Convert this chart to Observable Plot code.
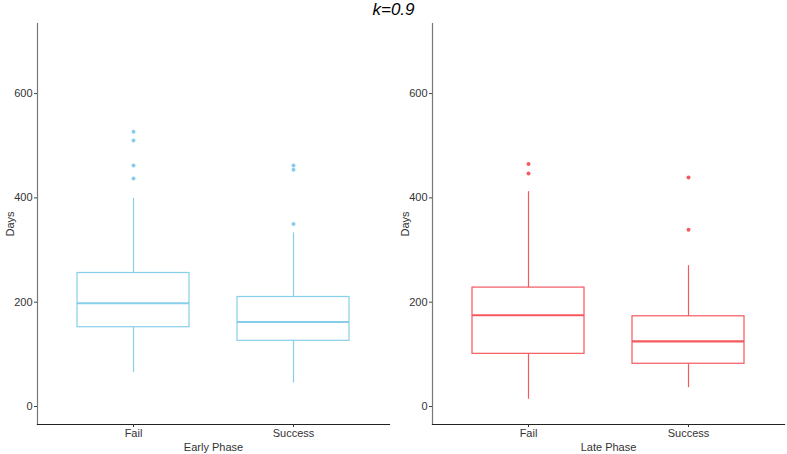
<!DOCTYPE html>
<html>
<head>
<meta charset="utf-8">
<script src="https://cdn.jsdelivr.net/npm/d3@7"></script>
<script src="https://cdn.jsdelivr.net/npm/@observablehq/plot@0.6"></script>
<style>
  html, body { margin: 0; padding: 0; background: #fff; }
  body { width: 787px; height: 454px; position: relative; font-family: "Liberation Sans", Arial, sans-serif; }
  #title { position: absolute; top: 0; left: 0; width: 787px; text-align: center; font-style: italic; font-size: 17px; line-height: 20px; color: #000; }
  #row { display: flex; }
</style>
</head>
<body>
<div id="row"></div>
<div id="title">k=0.9</div>
<script>
const categories = ["Fail", "Success"];
const yTicks = [0, 200, 400, 600];

// Early Phase summary stats
const earlyLow    = [65, 45];
const earlyQ1     = [152, 126];
const earlyMedian = [198, 162];
const earlyQ3     = [256, 210];
const earlyHigh   = [399, 333];
const earlyOutliersFail    = [527, 510, 462, 437];
const earlyOutliersSuccess = [462, 454, 350];

// Late Phase summary stats
const lateLow    = [14, 36];
const lateQ1     = [101, 82];
const lateMedian = [175, 125];
const lateQ3     = [228, 173];
const lateHigh   = [412, 270];
const lateOutliersFail    = [465, 447];
const lateOutliersSuccess = [439, 339];

function panel(opts) {
  const stats = categories.map((c, i) => ({
    cat: c, low: opts.low[i], q1: opts.q1[i], med: opts.med[i], q3: opts.q3[i], high: opts.high[i]
  }));
  const outs = [
    ...opts.outFail.map(v => ({cat: "Fail", v})),
    ...opts.outSuccess.map(v => ({cat: "Success", v}))
  ];
  const color = opts.color;
  return Plot.plot({
    width: opts.width,
    height: 454,
    marginLeft: opts.marginLeft,
    marginRight: opts.marginRight,
    marginTop: 23,
    marginBottom: 30,
    style: {fontFamily: "Liberation Sans, Arial, sans-serif", fontSize: "11px", background: "#fff"},
    x: {domain: categories, paddingInner: 0.3, paddingOuter: 0.25, align: 0.5},
    y: {domain: [-34.5, 734.4]},
    marks: [
      Plot.frame({anchor: "left", stroke: "#777", strokeWidth: 1.2}),
      Plot.frame({anchor: "bottom", stroke: "#222", strokeWidth: 1.2}),
      Plot.axisY({ticks: yTicks, tickSize: 3, tickPadding: 2, fill: "#333", stroke: "#444",
        label: "Days", labelAnchor: "center", labelOffset: 31, labelArrow: "none"}),
      Plot.axisX({tickSize: 3, tickPadding: 2, fill: "#333", stroke: "#333",
        label: opts.xLabel, labelAnchor: "center", labelOffset: 26, labelArrow: "none"}),
      Plot.ruleX(stats, {x: "cat", y1: "low", y2: "q1", stroke: color, strokeWidth: 1.2}),
      Plot.ruleX(stats, {x: "cat", y1: "q3", y2: "high", stroke: color, strokeWidth: 1.2}),
      Plot.barY(stats, {x: "cat", y1: "q1", y2: "q3", fill: "#fff", stroke: color, strokeWidth: 1.2}),
      Plot.tickY(stats, {x: "cat", y: "med", stroke: color, strokeWidth: 2.2}),
      Plot.dot(outs, {x: "cat", y: "v", r: 2, fill: color, stroke: "none"})
    ]
  });
}

const row = document.getElementById("row");
row.appendChild(panel({
  width: 393, marginLeft: 37, marginRight: 4, color: "#87CEEB", xLabel: "Early Phase",
  low: earlyLow, q1: earlyQ1, med: earlyMedian, q3: earlyQ3, high: earlyHigh,
  outFail: earlyOutliersFail, outSuccess: earlyOutliersSuccess
}));
row.appendChild(panel({
  width: 394, marginLeft: 39, marginRight: 3, color: "#F6585F", xLabel: "Late Phase",
  low: lateLow, q1: lateQ1, med: lateMedian, q3: lateQ3, high: lateHigh,
  outFail: lateOutliersFail, outSuccess: lateOutliersSuccess
}));
</script>
</body>
</html>
